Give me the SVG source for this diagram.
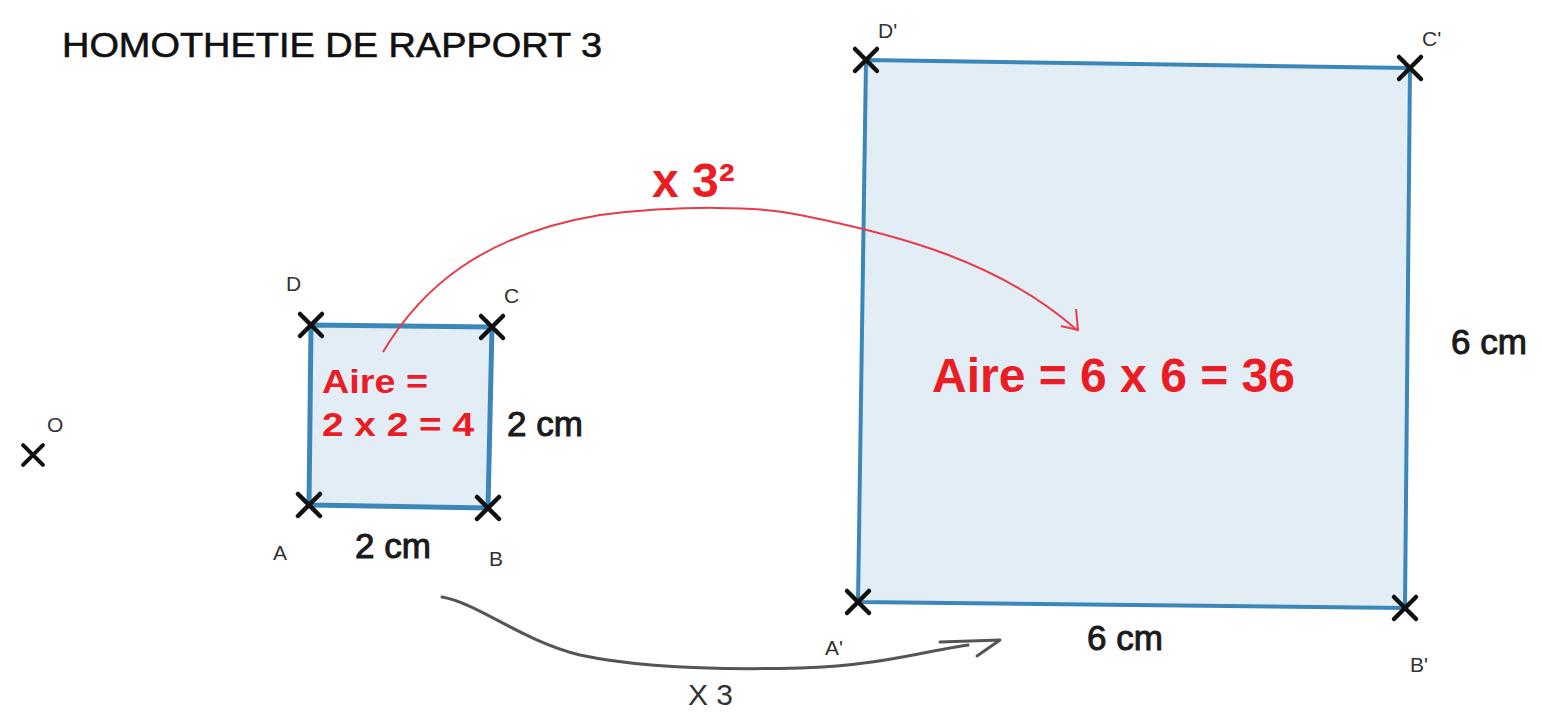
<svg xmlns="http://www.w3.org/2000/svg" width="1542" height="712" viewBox="0 0 1542 712">
<style>
.sq{fill:#e3edf5;stroke:#3b87b9;stroke-linejoin:round}
.x{stroke:#111;stroke-width:4.5;stroke-linecap:round}
.lbl{font-family:"Liberation Sans",Arial,sans-serif;fill:#333;font-size:21px}
.dim{font-family:"Liberation Sans",Arial,sans-serif;fill:#1a1a1a;stroke:#1a1a1a;stroke-width:1;font-size:35px}
.red{font-family:"Liberation Sans",Arial,sans-serif;fill:#ea1c24;font-weight:bold}
</style>
<defs>
<path id="cross" d="M-11,-11L11,11M-11,11L11,-11" class="x"/>
</defs>
<rect width="1542" height="712" fill="#fff"/>
<text x="62" y="57" font-family="Liberation Sans,Arial,sans-serif" font-size="35" fill="#111" stroke="#111" stroke-width="0.6" textLength="540" lengthAdjust="spacingAndGlyphs">HOMOTHETIE DE RAPPORT 3</text>

<g id="big-square">
<polygon class="sq" stroke-width="4" points="866,60 1410,68 1405,608 858,602"/>
</g>
<g id="small-square">
<polygon class="sq" stroke-width="5" points="311,325 492,327 488,508 309,505"/>
</g>

<g id="connectors" fill="none">
<path d="M383,352 C420,290 480,235 600,215 C680,205 760,206 800,215 C900,235 1000,262 1077,330" stroke="#e83a48" stroke-width="2"/>
<path d="M1061,326 L1078,330 L1076,309" stroke="#e83a48" stroke-width="2"/>
<path d="M442,597 C480,604 520,640 580,655 C640,668 720,670 800,668 C880,666 930,650 968,645" stroke="#555" stroke-width="3" stroke-linecap="round"/>
<path d="M940,642 L1000,640 L977,656" stroke="#555" stroke-width="3" stroke-linecap="round" stroke-linejoin="round"/>
</g>

<g id="O"><use href="#cross" transform="translate(33,455) scale(0.9)"/><text class="lbl" x="47" y="432" font-size="17">O</text></g>
<g id="A"><use href="#cross" x="309" y="505"/><text class="lbl" x="273" y="560">A</text></g>
<g id="B"><use href="#cross" x="488" y="508"/><text class="lbl" x="489" y="566">B</text></g>
<g id="C"><use href="#cross" x="492" y="327"/><text class="lbl" x="504" y="303">C</text></g>
<g id="D"><use href="#cross" x="311" y="325"/><text class="lbl" x="286" y="291">D</text></g>
<g id="A2"><use href="#cross" x="858" y="602"/><text class="lbl" x="825" y="655">A'</text></g>
<g id="B2"><use href="#cross" x="1405" y="608"/><text class="lbl" x="1410" y="672">B'</text></g>
<g id="C2"><use href="#cross" x="1410" y="68"/><text class="lbl" x="1422" y="46">C'</text></g>
<g id="D2"><use href="#cross" x="866" y="60"/><text class="lbl" x="878" y="38">D'</text></g>

<g id="labels">
<text class="dim" x="507" y="436">2 cm</text>
<text class="dim" x="355" y="558">2 cm</text>
<text class="dim" x="1087" y="650">6 cm</text>
<text class="dim" x="1451" y="354">6 cm</text>
<text class="red" x="322" y="393" font-size="34" textLength="106" lengthAdjust="spacingAndGlyphs">Aire =</text>
<text class="red" x="322" y="436" font-size="34" textLength="152" lengthAdjust="spacingAndGlyphs">2 x 2 = 4</text>
<text class="red" x="932" y="392" font-size="48">Aire = 6 x 6 = 36</text>
<text class="red" x="652" y="197" font-size="48">x 3²</text>
<text x="688" y="705" font-family="Liberation Sans,Arial,sans-serif" font-size="30" fill="#333">X 3</text>
</g>
</svg>
